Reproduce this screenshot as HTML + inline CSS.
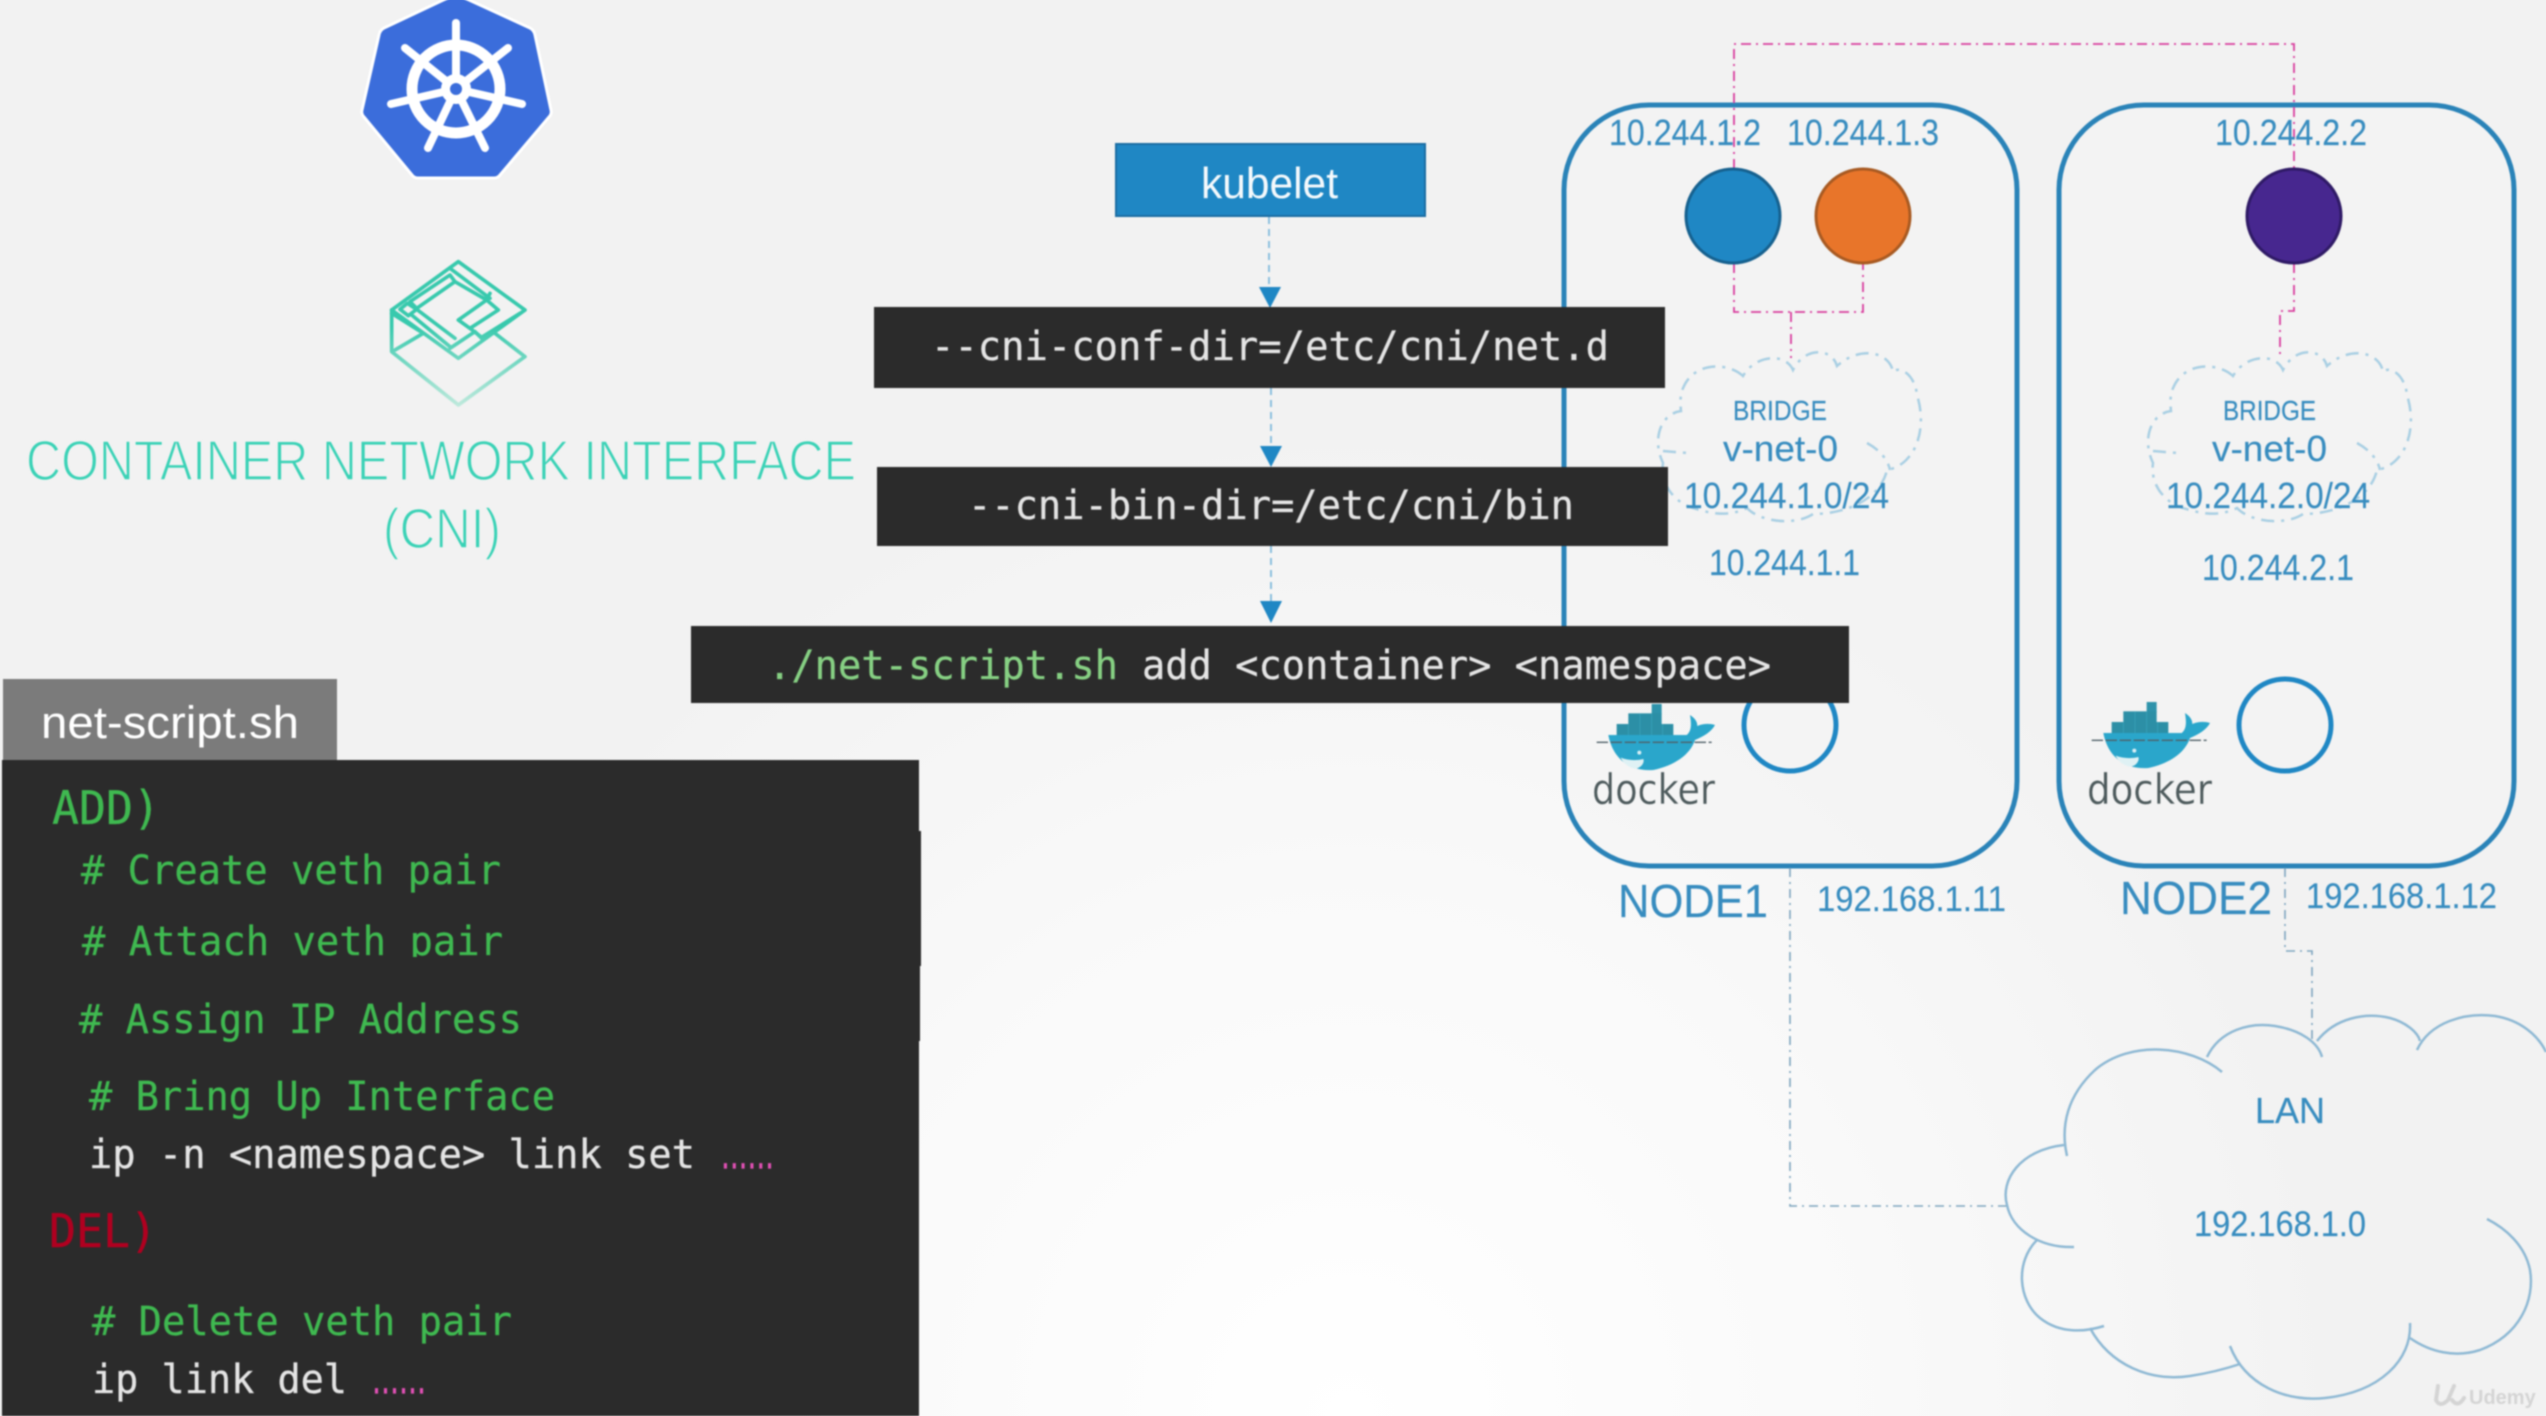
<!DOCTYPE html>
<html><head><meta charset="utf-8"><title>CNI net-script</title>
<style>
html,body{margin:0;padding:0;background:#f2f2f2;width:2546px;height:1416px;overflow:hidden}
svg{display:block}
.s{font-family:"Liberation Sans",sans-serif}
.m{font-family:"DejaVu Sans Mono","Liberation Mono",monospace;font-size:40px}
.b{fill:#378cbf;stroke:#378cbf;stroke-width:.15}
.g{fill:#3fb950;stroke:#3fb950;stroke-width:.3}
.w{fill:#e4e4e4;stroke:#e4e4e4;stroke-width:.3}
.pk{fill:#e050b4;stroke:#e050b4;stroke-width:1.2;font-weight:bold}
.pl{fill:none;stroke:#d9409f;stroke-width:1.8;stroke-dasharray:10 5 2 5}
.gl{fill:none;stroke:#7fa6bf;stroke-width:1.6;stroke-dasharray:9 5 2 5}
.al{fill:none;stroke:#8cc0de;stroke-width:2;stroke-dasharray:7 5}
.cl{fill:none;stroke:#a9cfe3;stroke-width:2.5;stroke-dasharray:13 7 3 7}
.lan{fill:none;stroke:#8fb9d4;stroke-width:2.5}
</style></head>
<body>
<svg width="2546" height="1416" viewBox="0 0 2546 1416" xmlns="http://www.w3.org/2000/svg">
<defs>
<radialGradient id="bg" gradientUnits="userSpaceOnUse" cx="1350" cy="1416" r="1000">
<stop offset="0" stop-color="#ffffff"/><stop offset=".55" stop-color="#f9f9f9"/><stop offset="1" stop-color="#f2f2f2"/>
</radialGradient>
<linearGradient id="fade" gradientUnits="userSpaceOnUse" x1="0" y1="230" x2="0" y2="470">
<stop offset="0" stop-color="#38c9ad"/><stop offset="1" stop-color="#bfe9dc"/>
</linearGradient>
<clipPath id="attach"><rect x="0" y="900" width="900" height="57"/></clipPath>
<g id="bridge">
<path class="cl" d="M1743,376 C1728,362 1695,362 1684,386 C1680,394 1680,402 1681,411 C1660,414 1652,440 1663,463 C1660,485 1675,505 1700,510 C1720,516 1735,514 1747,508 C1760,522 1795,526 1813,514 C1845,514 1880,500 1887,470 C1915,465 1928,430 1917,395 C1915,375 1900,365 1893,372 C1890,352 1860,345 1837,366 C1832,348 1805,346 1793,370 C1785,352 1755,355 1743,376 Z"/>
<path class="cl" d="M1663,451 L1687,453 M1867,443 C1880,450 1888,460 1890,470"/>
</g>
<g id="whale">
<rect x="215" y="42" width="30" height="30" fill="#2e93ab"/>
<rect x="145" y="70" width="100" height="34" fill="#2c8fa6"/>
<rect x="110" y="102" width="170" height="36" fill="#2c8fa6"/>
<path d="M180,70 V135 M145,102 V135 M215,70 V135 M248,102 V135" stroke="#3aa6bd" stroke-width="2"/>
<path fill="#2aa6cb" d="M85,135 H320 C332,125 336,110 330,75 C345,85 352,95 352,108 C370,100 390,100 405,105 C395,125 370,140 345,150 C332,190 290,225 220,240 C160,245 100,215 85,135 Z"/>
<path fill="#dff1f4" d="M122,203 C145,212 170,212 190,207 C195,220 180,236 165,236 C145,232 130,220 122,203 Z"/>
<path d="M50,157 H395" stroke="#4f6068" stroke-width="4" stroke-dasharray="34 8"/>
<circle cx="178" cy="188" r="6" fill="#d8eef4"/>
</g>
</defs>
<rect width="2546" height="1416" fill="url(#bg)"/>

<g style="filter:blur(.7px)">
<!-- Kubernetes logo -->
<path d="M456,-6 L530,28 Q534,30 535,35 L551,110 Q552,114 549,117 L500,175 Q498,178 494,178 L418,178 Q414,178 412,175 L364,117 Q361,114 362,110 L379,35 Q380,30 384,28 Z" fill="#3b6ddb" stroke="#fff" stroke-width="3" stroke-linejoin="round"/>
<g fill="none" stroke="#fff" stroke-linecap="round">
<circle cx="456" cy="89" r="44" stroke-width="11"/>
<g stroke-width="8">
<path d="M456,89 V23"/><path d="M456,89 L508,48"/><path d="M456,89 L522,104"/><path d="M456,89 L485,148"/><path d="M456,89 L428,148"/><path d="M456,89 L391,104"/><path d="M456,89 L405,48"/>
</g></g>
<circle cx="456" cy="89" r="15" fill="#fff"/><circle cx="456" cy="89" r="6" fill="#3b6ddb"/>

<!-- CNI logo -->
<g transform="translate(375,250) scale(.3333)" fill="none" stroke="url(#fade)" stroke-width="11" stroke-linejoin="round" stroke-linecap="round">
<path d="M50,180 V305 L250,465 L450,320 L360,250"/>
<path d="M60,300 L145,250 M50,190 L145,250"/>
<path d="M250,35 L450,180 L250,325 L50,180 Z"/>
<path d="M105,155 L225,75 L240,95 L125,175 Z"/>
<path d="M225,55 L345,145 M240,95 L335,150"/>
<path d="M125,178 L240,265 M110,195 L225,290"/>
<path d="M75,178 L97,160 L125,178 L100,197 Z"/>
<path d="M250,210 L335,150 L370,180 L285,235 Z"/>
<path d="M345,130 L335,150 M285,235 L320,262 M320,262 L435,190"/>
<path d="M225,295 L300,245 L320,265"/>
</g>
<text class="s" x="26" y="480" font-size="57" textLength="830" lengthAdjust="spacingAndGlyphs" fill="#3ad2b6" stroke="#f2f2f2" stroke-width="1.5">CONTAINER NETWORK INTERFACE</text>
<text class="s" x="383" y="548" font-size="57" textLength="118" lengthAdjust="spacingAndGlyphs" fill="#3ad2b6" stroke="#f2f2f2" stroke-width="1.5">(CNI)</text>

<!-- Nodes -->
<rect x="1564" y="105" width="453" height="761" rx="85" ry="85" fill="#f4f4f4" fill-opacity=".5" stroke="#2a83b8" stroke-width="5"/>
<rect x="2059" y="105" width="455" height="761" rx="85" ry="85" fill="#f4f4f4" fill-opacity=".5" stroke="#2a83b8" stroke-width="5"/>

<!-- pink links -->
<path class="pl" d="M1734,169 V44 H2294 V169"/>
<path class="pl" d="M1734,263 V312 H1863 V263 M1791,312 V358"/>
<path class="pl" d="M2294,263 V311 H2280 V358"/>

<!-- pods -->
<circle cx="1733" cy="216" r="47" fill="#1f87c4" stroke="#16618f" stroke-width="3"/>
<circle cx="1863" cy="216" r="47" fill="#e8752a" stroke="#a85a22" stroke-width="3"/>
<circle cx="2294" cy="216" r="47" fill="#47278f" stroke="#2f1a66" stroke-width="3"/>

<text class="s b" x="1609" y="145" font-size="36" textLength="152" lengthAdjust="spacingAndGlyphs">10.244.1.2</text>
<text class="s b" x="1787" y="145" font-size="36" textLength="152" lengthAdjust="spacingAndGlyphs">10.244.1.3</text>
<text class="s b" x="2215" y="145" font-size="36" textLength="152" lengthAdjust="spacingAndGlyphs">10.244.2.2</text>

<!-- bridges -->
<use href="#bridge"/>
<use href="#bridge" transform="translate(490,0)"/>
<text class="s b" x="1733" y="420" font-size="28" textLength="94" lengthAdjust="spacingAndGlyphs">BRIDGE</text>
<text class="s b" x="2223" y="420" font-size="28" textLength="93" lengthAdjust="spacingAndGlyphs">BRIDGE</text>
<text class="s b" x="1723" y="461" font-size="36" textLength="115" lengthAdjust="spacingAndGlyphs">v-net-0</text>
<text class="s b" x="2212" y="461" font-size="36" textLength="115" lengthAdjust="spacingAndGlyphs">v-net-0</text>
<text class="s b" x="1684" y="508" font-size="36" textLength="205" lengthAdjust="spacingAndGlyphs">10.244.1.0/24</text>
<text class="s b" x="2166" y="508" font-size="36" textLength="204" lengthAdjust="spacingAndGlyphs">10.244.2.0/24</text>
<text class="s b" x="1709" y="575" font-size="36" textLength="151" lengthAdjust="spacingAndGlyphs">10.244.1.1</text>
<text class="s b" x="2202" y="580" font-size="36" textLength="152" lengthAdjust="spacingAndGlyphs">10.244.2.1</text>

<!-- docker and eth -->
<circle cx="1790" cy="725" r="46" fill="none" stroke="#1f87c4" stroke-width="5"/>
<circle cx="2285" cy="725" r="46" fill="none" stroke="#1f87c4" stroke-width="5"/>
<use href="#whale" transform="translate(1580,690) scale(.3333)"/>
<use href="#whale" transform="translate(2075,688) scale(.3333)"/>
<text x="1592" y="804" font-family="'DejaVu Sans',sans-serif" font-size="42" textLength="123" lengthAdjust="spacingAndGlyphs" fill="#4d5a5c" stroke="#f6f6f6" stroke-width=".3">docker</text>
<text x="2087" y="804" font-family="'DejaVu Sans',sans-serif" font-size="42" textLength="125" lengthAdjust="spacingAndGlyphs" fill="#4d5a5c" stroke="#f6f6f6" stroke-width=".3">docker</text>

<text class="s b" x="1618" y="917" font-size="46" textLength="150" lengthAdjust="spacingAndGlyphs">NODE1</text>
<text class="s b" x="2120" y="914" font-size="46" textLength="152" lengthAdjust="spacingAndGlyphs">NODE2</text>
<text class="s b" x="1817" y="911" font-size="35" textLength="189" lengthAdjust="spacingAndGlyphs">192.168.1.11</text>
<text class="s b" x="2306" y="908" font-size="35" textLength="191" lengthAdjust="spacingAndGlyphs">192.168.1.12</text>

<!-- LAN -->
<path class="gl" d="M1790,868 V1206 H2010"/>
<path class="gl" d="M2285,868 V951 H2312 V1039"/>
<path class="lan" d="M2222,1072 C2190,1045 2130,1040 2095,1070 C2068,1095 2060,1125 2067,1156"/>
<path class="lan" d="M2064,1145 C2020,1150 2000,1180 2007,1205 C2012,1230 2040,1248 2074,1247"/>
<path class="lan" d="M2037,1240 C2015,1262 2018,1300 2040,1318 C2060,1334 2085,1332 2104,1326"/>
<path class="lan" d="M2090,1328 C2110,1365 2150,1382 2190,1376 C2210,1373 2228,1368 2240,1364"/>
<path class="lan" d="M2230,1346 C2245,1385 2285,1402 2325,1398 C2380,1392 2412,1360 2410,1323"/>
<path class="lan" d="M2410,1338 C2430,1352 2455,1358 2480,1350 C2520,1335 2535,1300 2530,1270 C2525,1245 2505,1228 2487,1219"/>
<path class="lan" d="M2207,1057 C2220,1030 2250,1022 2275,1026 C2300,1030 2318,1042 2322,1057"/>
<path class="lan" d="M2317,1041 C2335,1018 2365,1012 2390,1018 C2405,1022 2418,1032 2420,1041"/>
<path class="lan" d="M2417,1050 C2430,1022 2465,1012 2495,1016 C2520,1020 2538,1035 2546,1052"/>
<text class="s b" x="2255" y="1123" font-size="36" textLength="70" lengthAdjust="spacingAndGlyphs">LAN</text>
<text class="s b" x="2194" y="1236" font-size="35" textLength="172" lengthAdjust="spacingAndGlyphs">192.168.1.0</text>
<path d="M2438,1386 L2436,1400 Q2440,1408 2448,1400 L2454,1386 M2452,1400 Q2458,1408 2464,1398" fill="none" stroke="#d4d4d4" stroke-width="4" stroke-linecap="round"/>
<text class="s" x="2469" y="1404" font-size="20" font-weight="bold" fill="#d4d4d4">Udemy</text>

<!-- arrows -->
<path class="al" d="M1269,217 V288"/>
<path d="M1259,287 H1281 L1270,308 Z" fill="#1f87c4"/>
<path class="al" d="M1271,388 V447"/>
<path d="M1260,446 H1282 L1271,467 Z" fill="#1f87c4"/>
<path class="al" d="M1271,546 V602"/>
<path d="M1260,601 H1282 L1271,623 Z" fill="#1f87c4"/>

<!-- kubelet -->
<rect x="1116" y="144" width="309" height="72" fill="#1f87c4" stroke="#1b6da3" stroke-width="2"/>
<text class="s" x="1201" y="198" font-size="44" textLength="137" lengthAdjust="spacingAndGlyphs" fill="#f4f9fc">kubelet</text>

<!-- commands -->
<rect x="874" y="307" width="791" height="81" fill="#2b2b2b"/>
<text class="m w" x="931" y="360" textLength="678" lengthAdjust="spacingAndGlyphs">--cni-conf-dir=/etc/cni/net.d</text>
<rect x="877" y="467" width="791" height="79" fill="#2b2b2b"/>
<text class="m w" x="968" y="519" textLength="606" lengthAdjust="spacingAndGlyphs">--cni-bin-dir=/etc/cni/bin</text>
<rect x="691" y="626" width="1158" height="77" fill="#2b2b2b"/>
<text class="m" x="768" y="679" fill="#86d083" stroke="#86d083" stroke-width=".3" textLength="350" lengthAdjust="spacingAndGlyphs">./net-script.sh</text>
<text class="m w" x="1142" y="679" textLength="629" lengthAdjust="spacingAndGlyphs">add &lt;container&gt; &lt;namespace&gt;</text>

<!-- script panel -->
<rect x="3" y="679" width="334" height="81" fill="#7b7b7b"/>
<text class="s" x="41" y="738" font-size="45" textLength="258" lengthAdjust="spacingAndGlyphs" fill="#fff">net-script.sh</text>
<rect x="2" y="760" width="917" height="656" fill="#2b2b2b"/>
<rect x="919" y="831" width="2" height="135" fill="#2b2b2b"/>
<rect x="919" y="966" width="1" height="75" fill="#2b2b2b"/>
<text class="m g" x="52" y="824" style="font-size:46px" textLength="108" lengthAdjust="spacingAndGlyphs">ADD)</text>
<text class="m g" x="81" y="884" textLength="420" lengthAdjust="spacingAndGlyphs"># Create veth pair</text>
<g clip-path="url(#attach)"><text class="m g" x="82" y="955" textLength="421" lengthAdjust="spacingAndGlyphs"># Attach veth pair</text></g>
<text class="m g" x="79" y="1033" textLength="443" lengthAdjust="spacingAndGlyphs"># Assign IP Address</text>
<text class="m g" x="89" y="1110" textLength="466" lengthAdjust="spacingAndGlyphs"># Bring Up Interface</text>
<text class="m w" x="89" y="1168" textLength="606" lengthAdjust="spacingAndGlyphs">ip -n &lt;namespace&gt; link set</text>
<text class="m pk" x="721" y="1168" style="font-size:24px" textLength="53" lengthAdjust="spacingAndGlyphs">......</text>
<text class="m" x="49" y="1247" style="font-size:46px" fill="#b00020" stroke="#b00020" stroke-width=".4" textLength="108" lengthAdjust="spacingAndGlyphs">DEL)</text>
<text class="m g" x="92" y="1335" textLength="420" lengthAdjust="spacingAndGlyphs"># Delete veth pair</text>
<text class="m w" x="92" y="1393" textLength="255" lengthAdjust="spacingAndGlyphs">ip link del</text>
<text class="m pk" x="372" y="1393" style="font-size:24px" textLength="54" lengthAdjust="spacingAndGlyphs">......</text>
</g>
</svg>
</body></html>
